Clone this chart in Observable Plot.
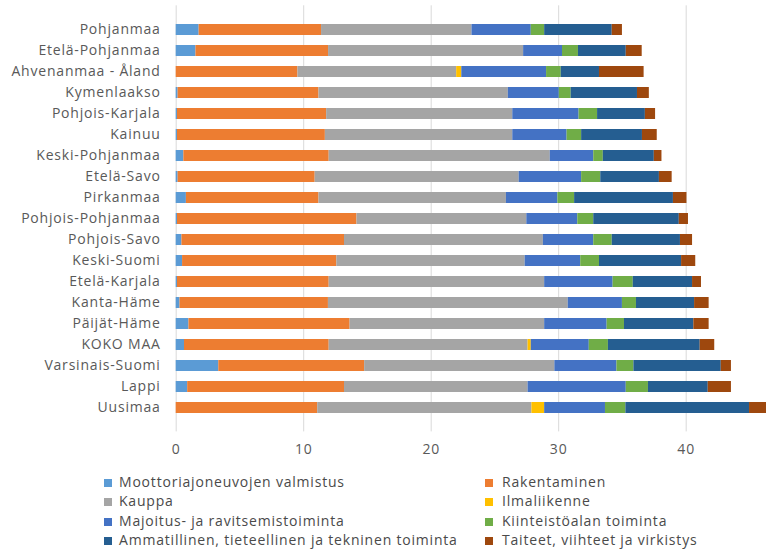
<!DOCTYPE html>
<html>
<head>
<meta charset="utf-8">
<script src="https://cdn.jsdelivr.net/npm/d3@7"></script>
<script src="https://cdn.jsdelivr.net/npm/@observablehq/plot@0.6"></script>
<style>
  html, body { margin: 0; padding: 0; background: #fff; }
  #wrap { position: relative; width: 766px; height: 551px; overflow: hidden; font-family: "Open Sans", sans-serif; }
  .lg { position: absolute; font-size: 14px; letter-spacing: 0.8px; color: #4a4a4a; white-space: nowrap; line-height: 1; }
  .sw { position: absolute; width: 8px; height: 8px; }
</style>
</head>
<body>
<div id="wrap"></div>
<script>
const regions = ["Pohjanmaa","Etelä-Pohjanmaa","Ahvenanmaa - Åland","Kymenlaakso","Pohjois-Karjala","Kainuu","Keski-Pohjanmaa","Etelä-Savo","Pirkanmaa","Pohjois-Pohjanmaa","Pohjois-Savo","Keski-Suomi","Etelä-Karjala","Kanta-Häme","Päijät-Häme","KOKO MAA","Varsinais-Suomi","Lappi","Uusimaa"];

const seriesNames = ["Moottoriajoneuvojen valmistus","Rakentaminen","Kauppa","Ilmaliikenne","Majoitus- ja ravitsemistoiminta","Kiinteistöalan toiminta","Ammatillinen, tieteellinen ja tekninen toiminta","Taiteet, viihteet ja virkistys"];

const moottori = [1.8,1.55,0,0.15,0.1,0.1,0.6,0.15,0.8,0.1,0.45,0.5,0.1,0.3,1.0,0.65,3.34,0.9,0];
const rakentaminen = [9.6,10.4,9.55,11.05,11.7,11.6,11.4,10.75,10.4,14.08,12.75,12.1,11.9,11.64,12.64,11.35,11.44,12.3,11.1];
const kauppa = [11.8,15.3,12.45,14.85,14.6,14.7,17.34,16.0,14.7,13.32,15.6,14.77,16.9,18.81,15.26,15.6,14.92,14.4,16.8];
const ilmaliikenne = [0,0,0.4,0,0,0,0,0,0,0,0,0,0,0,0,0.25,0,0,1.0];
const majoitus = [4.65,3.05,6.65,4.0,5.2,4.26,3.41,4.9,4.04,4.0,3.95,4.36,5.37,4.25,4.9,4.55,4.87,7.7,4.77];
const kiinteisto = [1.05,1.25,1.15,0.93,1.45,1.14,0.75,1.5,1.31,1.25,1.45,1.47,1.58,1.1,1.36,1.5,1.33,1.74,1.6];
const ammatillinen = [5.3,3.75,3.0,5.2,3.75,4.77,4.0,4.6,7.75,6.71,5.35,6.44,4.65,4.56,5.44,7.2,6.85,4.69,9.7];
const taiteet = [0.8,1.25,3.5,0.93,0.8,1.16,0.6,1.0,1.06,0.72,0.95,1.11,0.7,1.14,1.2,1.14,0.8,1.82,1.4];

const xTicks = [0, 10, 20, 30, 40];

const colors = ["#5B9BD5","#ED7D31","#A5A5A5","#FFC000","#4472C4","#70AD47","#255E91","#9E480E"];

const seriesValues = [moottori, rakentaminen, kauppa, ilmaliikenne, majoitus, kiinteisto, ammatillinen, taiteet];
const data = [];
regions.forEach((r, i) => {
  seriesNames.forEach((s, j) => {
    data.push({region: r, series: s, value: seriesValues[j][i]});
  });
});

const chart = Plot.plot({
  width: 766,
  height: 465,
  marginLeft: 175.7,
  marginRight: 0,
  marginTop: 5.3,
  marginBottom: 33.6,
  style: {fontFamily: "Open Sans, sans-serif", fontSize: "14px", letterSpacing: "0.8px", color: "#595959", background: "#fff"},
  x: {domain: [0, 46.3], ticks: xTicks, tickSize: 0, tickPadding: 12.5, label: null},
  y: {domain: regions, padding: 0.5, tickSize: 0, tickPadding: 15.5, label: null},
  color: {domain: seriesNames, range: colors},
  marks: [
    Plot.gridX(xTicks, {stroke: "#d9d9d9", strokeOpacity: 1}),
    Plot.barX(data, Plot.stackX({x: "value", y: "region", fill: "series", order: seriesNames})),
  ]
});
const wrap = document.getElementById("wrap");
wrap.appendChild(chart);

// legend
const legendRows = [482.7, 502.3, 521.7, 541];
const colSwatch = [104, 485];
const colText = [119, 502];
seriesNames.forEach((s, j) => {
  const row = Math.floor(j / 2), col = j % 2;
  const sw = document.createElement("div");
  sw.className = "sw";
  sw.style.left = colSwatch[col] + "px";
  sw.style.top = (legendRows[row] - 4) + "px";
  sw.style.background = colors[j];
  wrap.appendChild(sw);
  const t = document.createElement("div");
  t.className = "lg";
  t.textContent = s;
  t.style.left = colText[col] + "px";
  t.style.top = (legendRows[row] - 8) + "px";
  wrap.appendChild(t);
});
</script>
</body>
</html>
